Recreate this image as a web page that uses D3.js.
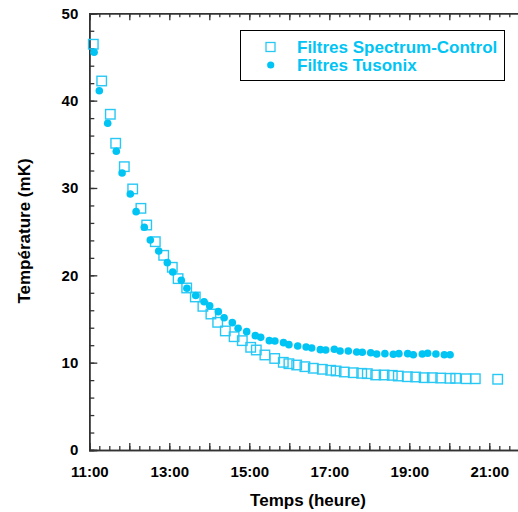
<!DOCTYPE html>
<html><head><meta charset="utf-8">
<script src="https://cdn.jsdelivr.net/npm/d3@7"></script>
<style>body{margin:0;background:#fff}svg{display:block}text{font-family:"Liberation Sans",Arial,sans-serif;font-weight:bold}</style>
</head><body><div id="chart"></div>
<script>
// Time in decimal hours, temperature in mK
const spectrumTime = [11.10,11.31,11.525,11.66,11.875,12.085,12.29,12.435,12.65,12.86,13.075,13.22,13.435,13.65,13.84,14.04,14.21,14.40,14.62,14.825,15.035,15.175,15.39,15.635,15.85,15.99,16.185,16.39,16.60,16.825,17.035,17.17,17.375,17.60,17.81,17.95,18.16,18.37,18.575,18.725,18.95,19.16,19.37,19.575,19.785,20.02,20.16,20.42,20.65,21.21];
const spectrumTemp = [46.46,42.25,38.44,35.12,32.44,29.89,27.67,25.76,23.85,22.29,20.92,19.62,18.55,17.52,16.45,15.57,14.62,13.63,12.97,12.52,11.76,11.45,10.88,10.48,10.04,9.88,9.73,9.54,9.36,9.24,9.13,9.05,8.93,8.85,8.78,8.74,8.59,8.59,8.55,8.47,8.39,8.36,8.28,8.28,8.24,8.21,8.21,8.16,8.16,8.10];
const tusonixTime = [11.12,11.25,11.46,11.675,11.82,12.025,12.17,12.375,12.525,12.735,12.95,13.085,13.30,13.44,13.66,13.87,14.01,14.225,14.37,14.575,14.72,14.935,15.15,15.285,15.50,15.64,15.855,15.99,16.21,16.42,16.56,16.775,16.91,17.125,17.27,17.475,17.685,17.825,18.035,18.185,18.39,18.60,18.74,18.96,19.10,19.325,19.46,19.665,19.875,20.02];
const tusonixTemp = [45.54,41.14,37.41,34.20,31.72,29.31,27.29,25.50,24.05,22.79,21.45,20.38,19.43,18.52,17.69,16.98,16.52,15.84,15.15,14.58,13.94,13.55,13.09,12.90,12.52,12.48,12.29,12.06,11.91,11.79,11.68,11.49,11.45,11.53,11.34,11.34,11.22,11.19,11.14,10.99,11.03,10.96,11.03,11.03,10.91,10.99,11.07,10.99,10.91,10.91];
const xLabelHours = [11,13,15,17,19,21];
const yLabels = [0,10,20,30,40,50];
const seriesNames = ["Filtres Spectrum-Control","Filtres Tusonix"];

const W = 518, H = 512;
const svg = d3.select("#chart").append("svg").attr("width", W).attr("height", H);
const x = d3.scaleLinear().domain([11, 22]).range([89.3, 529.3]);
const y = d3.scaleLinear().domain([0, 50]).range([450, 13.3]);
const axisColor = "#333";
const fmt = h => String(Math.floor(h)).padStart(2,"0") + ":00";

const quarters = d3.range(11, 22.001, 0.25);
const hours = d3.range(11, 22.001, 1);
const yMinor = d3.range(0, 50.001, 2);

function styleAxis(g){
  g.select(".domain").attr("stroke", axisColor).attr("stroke-width", 1.5);
  g.selectAll(".tick line").attr("stroke", axisColor).attr("stroke-width", 1.3);
  g.selectAll("text").attr("fill", "#000").style("font-size", "15px").style("font-weight","bold").style("font-family",'"Liberation Sans",Arial,sans-serif');
}
// bottom axis
svg.append("g").attr("transform","translate(0,450)").call(d3.axisBottom(x).tickValues(quarters).tickSize(-4).tickFormat("")).call(styleAxis);
svg.append("g").attr("transform","translate(0,450)").call(d3.axisBottom(x).tickValues(hours).tickSize(-7).tickPadding(16).tickFormat(d => xLabelHours.includes(d) ? fmt(d) : "")).call(styleAxis);
// top axis
svg.append("g").attr("transform","translate(0,13.3)").call(d3.axisTop(x).tickValues(quarters).tickSize(-4).tickFormat("")).call(styleAxis);
svg.append("g").attr("transform","translate(0,13.3)").call(d3.axisTop(x).tickValues(hours).tickSize(-7).tickFormat("")).call(styleAxis);
// left axis
svg.append("g").attr("transform","translate(89.3,0)").call(d3.axisLeft(y).tickValues(yMinor).tickSize(-5).tickFormat("")).call(styleAxis);
svg.append("g").attr("transform","translate(89.3,0)").call(d3.axisLeft(y).tickValues(yLabels).tickSize(-8).tickPadding(11)).call(styleAxis);

// data
const sq = 9.5;
const spectrum = spectrumTime.map((t,i)=>({t, v: spectrumTemp[i]}));
const tusonix = tusonixTime.map((t,i)=>({t, v: tusonixTemp[i]}));
svg.append("g").selectAll("rect").data(spectrum).join("rect")
  .attr("x", d => x(d.t) - sq/2).attr("y", d => y(d.v) - sq/2)
  .attr("width", sq).attr("height", sq)
  .attr("fill","none").attr("stroke","#28c8f5").attr("stroke-width",1.4);
svg.append("g").selectAll("circle").data(tusonix).join("circle")
  .attr("cx", d => x(d.t)).attr("cy", d => y(d.v)).attr("r", 3.8)
  .attr("fill","#00c4f4");

// legend
const lg = svg.append("g");
lg.append("rect").attr("x",240.5).attr("y",30.5).attr("width",264).attr("height",50)
  .attr("fill","#fff").attr("stroke","#000").attr("stroke-width",1);
lg.append("rect").attr("x",266).attr("y",42.5).attr("width",9).attr("height",9)
  .attr("fill","none").attr("stroke","#28c8f5").attr("stroke-width",1.3);
lg.append("circle").attr("cx",270.7).attr("cy",65).attr("r",3.6).attr("fill","#00c4f4");
lg.selectAll("text").data(seriesNames).join("text")
  .attr("x",297).attr("y",(d,i)=>53.3 + i*17.4)
  .attr("fill","#00c4f4").style("font-size","17px").text(d=>d);

// axis titles
svg.append("text").attr("x", 308).attr("y", 506).attr("text-anchor","middle")
  .style("font-size","17px").attr("fill","#000").text("Temps (heure)");
svg.append("text").attr("transform","translate(30,231) rotate(-90)").attr("text-anchor","middle")
  .style("font-size","17px").attr("fill","#000").text("Température (mK)");
</script></body></html>
